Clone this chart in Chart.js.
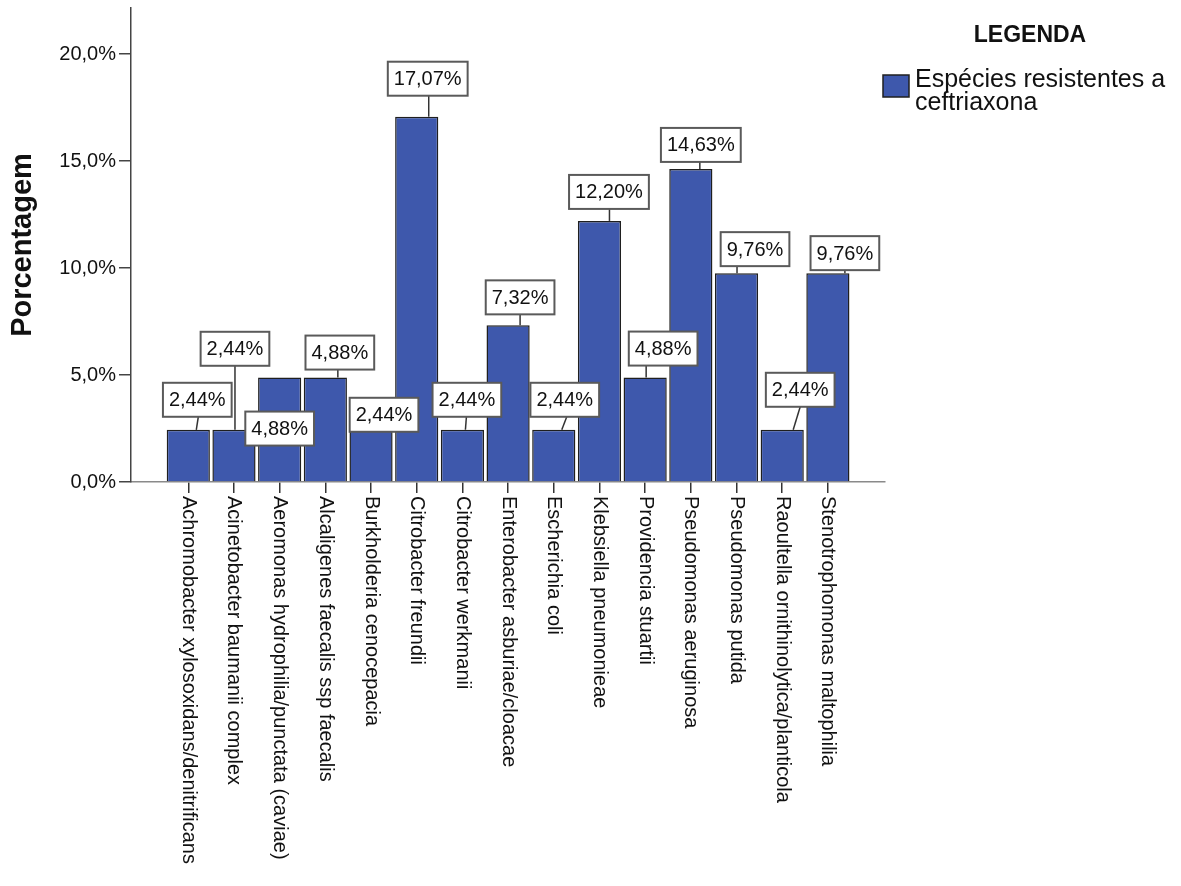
<!DOCTYPE html>
<html>
<head>
<meta charset="utf-8">
<title>Espécies resistentes a ceftriaxona</title>
<script src="https://cdn.jsdelivr.net/npm/chart.js@4.4.1/dist/chart.umd.min.js"></script>
<style>
    html, body { margin: 0; padding: 0; background: #fff; }
    #wrap { width: 1181px; height: 886px; }
</style>
</head>
<body>
<div id="wrap"><canvas id="barChart" width="1181" height="886"></canvas></div>
<script>
const species = [
    'Achromobacter xylosoxidans/denitrificans',
    'Acinetobacter baumanii complex',
    'Aeromonas hydrophilia/punctata (caviae)',
    'Alcaligenes faecalis ssp faecalis',
    'Burkholderia cenocepacia',
    'Citrobacter freundii',
    'Citrobacter werkmanii',
    'Enterobacter asburiae/cloacae',
    'Escherichia coli',
    'Klebsiella pneumonieae',
    'Providencia stuartii',
    'Pseudomonas aeruginosa',
    'Pseudomonas putida',
    'Raoultella ornithinolytica/planticola',
    'Stenotrophomonas maltophilia'
];
const percentages = [2.44, 2.44, 4.88, 4.88, 2.44, 17.07, 2.44, 7.32, 2.44, 12.20, 4.88, 14.63, 9.76, 2.44, 9.76];
const yTicks = [0, 5, 10, 15, 20];
const seriesLines = ['Espécies resistentes a', 'ceftriaxona'];
const legendTitle = 'LEGENDA';
const axisTitle = 'Porcentagem';

// callout placement per bar: [box dx, box bottom dy, leader foot dx, leader head dx]
const calloutOffsets = [
    [9, -13, 8, 10],
    [1, -64, 1, 1],
    [0, 68, null, null],
    [14.5, -8, 12.5, 12.5],
    [13, 2, null, null],
    [11, -21, 12, 12],
    [4.5, -13, 3, 4],
    [12, -11, 12, 12],
    [11, -13, 8, 13],
    [9.5, -12, 10, 10],
    [18, -12, 1, 1],
    [10, -7, 9, 9],
    [18.5, -7, 0.5, 0.5],
    [18, -23, 11, 18],
    [17, -3, 17, 17]
];

const barBlue = '#3E58AC';
const barEdge = '#1f1f1f';
const textColor = '#111';
const fontFamily = '"Liberation Sans", Arial, sans-serif';

const fmtTick = v => v.toFixed(1).replace('.', ',') + '%';
const fmtValue = v => v.toFixed(2).replace('.', ',') + '%';

const calloutPlugin = {
    id: 'callouts',
    afterDatasetsDraw(chart) {
        const ctx = chart.ctx;
        const bars = chart.getDatasetMeta(0).data;
        ctx.save();
        ctx.font = '20px ' + fontFamily;
        ctx.textAlign = 'center';
        ctx.textBaseline = 'middle';
        bars.forEach((bar, i) => {
            const [dx, dy, foot, head] = calloutOffsets[i];
            const label = fmtValue(percentages[i]);
            const w = ctx.measureText(label).width + 12;
            const h = 34;
            const cx = bar.x + dx;
            const bottom = bar.y + dy;
            if (foot !== null && bottom < bar.y - 1) {
                ctx.strokeStyle = '#333';
                ctx.lineWidth = 1.5;
                ctx.beginPath();
                ctx.moveTo(bar.x + foot, bar.y);
                ctx.lineTo(bar.x + head, bottom);
                ctx.stroke();
            }
            ctx.fillStyle = '#fff';
            ctx.fillRect(cx - w / 2, bottom - h, w, h);
            ctx.strokeStyle = '#5a5a5a';
            ctx.lineWidth = 2;
            ctx.strokeRect(cx - w / 2, bottom - h, w, h);
            ctx.fillStyle = textColor;
            ctx.fillText(label, cx, bottom - h / 2 + 1);
        });
        ctx.restore();
    }
};

const categoryLabelPlugin = {
    id: 'categoryLabels',
    afterDraw(chart) {
        const ctx = chart.ctx;
        const xs = chart.scales.x;
        ctx.save();
        ctx.font = '20px ' + fontFamily;
        ctx.fillStyle = textColor;
        ctx.textAlign = 'left';
        ctx.textBaseline = 'middle';
        species.forEach((name, i) => {
            ctx.save();
            ctx.translate(xs.getPixelForValue(i), xs.top + 14);
            ctx.rotate(Math.PI / 2);
            ctx.fillText(name, 0, 0);
            ctx.restore();
        });
        ctx.restore();
    }
};

const legendPlugin = {
    id: 'sideLegend',
    afterDraw(chart) {
        const ctx = chart.ctx;
        ctx.save();
        ctx.fillStyle = textColor;
        ctx.font = 'bold 23px ' + fontFamily;
        ctx.textAlign = 'center';
        ctx.textBaseline = 'alphabetic';
        ctx.fillText(legendTitle, 1030, 42);

        ctx.fillStyle = barBlue;
        ctx.fillRect(883, 75, 26, 22);
        ctx.strokeStyle = barEdge;
        ctx.lineWidth = 1.5;
        ctx.strokeRect(883, 75, 26, 22);

        ctx.fillStyle = textColor;
        ctx.font = '25px ' + fontFamily;
        ctx.textAlign = 'left';
        seriesLines.forEach((line, i) => ctx.fillText(line, 915, 87 + i * 23));
        ctx.restore();
    }
};

new Chart(document.getElementById('barChart'), {
    type: 'bar',
    data: {
        datasets: [{
            label: seriesLines.join(' '),
            data: percentages.map((v, i) => ({x: i, y: v})),
            backgroundColor: barBlue,
            borderColor: barEdge,
            borderWidth: 1.5,
            barPercentage: 0.945,
            categoryPercentage: 1
        }]
    },
    options: {
        responsive: false,
        animation: false,
        layout: {padding: {top: 8, right: 296, bottom: 393, left: 0}},
        plugins: {
            legend: {display: false},
            tooltip: {enabled: false}
        },
        scales: {
            x: {
                type: 'linear',
                offset: false,
                min: -1.254,
                max: 15.25,
                afterBuildTicks: s => { s.ticks = species.map((_, i) => ({value: i})); },
                ticks: {display: false},
                grid: {offset: false, drawOnChartArea: false, drawTicks: true, tickLength: 11, color: '#333', lineWidth: 1.5},
                border: {display: true, color: '#8a8a8a', width: 1.5}
            },
            y: {
                min: 0,
                max: 22.15,
                afterBuildTicks: s => { s.ticks = yTicks.map(v => ({value: v})); },
                afterFit: s => {
                    s.width = 131;
                    s.paddingTop = 0;
                    s.paddingBottom = 0;
                },
                ticks: {
                    callback: v => fmtTick(v),
                    color: textColor,
                    padding: 3,
                    font: {family: fontFamily, size: 20}
                },
                grid: {drawOnChartArea: false, drawTicks: true, tickLength: 12, color: '#444', lineWidth: 1.5},
                border: {display: true, color: '#444', width: 1.5},
                title: {
                    display: true,
                    text: axisTitle,
                    color: textColor,
                    padding: {top: 6, bottom: 0},
                    font: {family: fontFamily, size: 29, weight: 'bold'}
                }
            }
        }
    },
    plugins: [calloutPlugin, categoryLabelPlugin, legendPlugin]
});
</script>
</body>
</html>
